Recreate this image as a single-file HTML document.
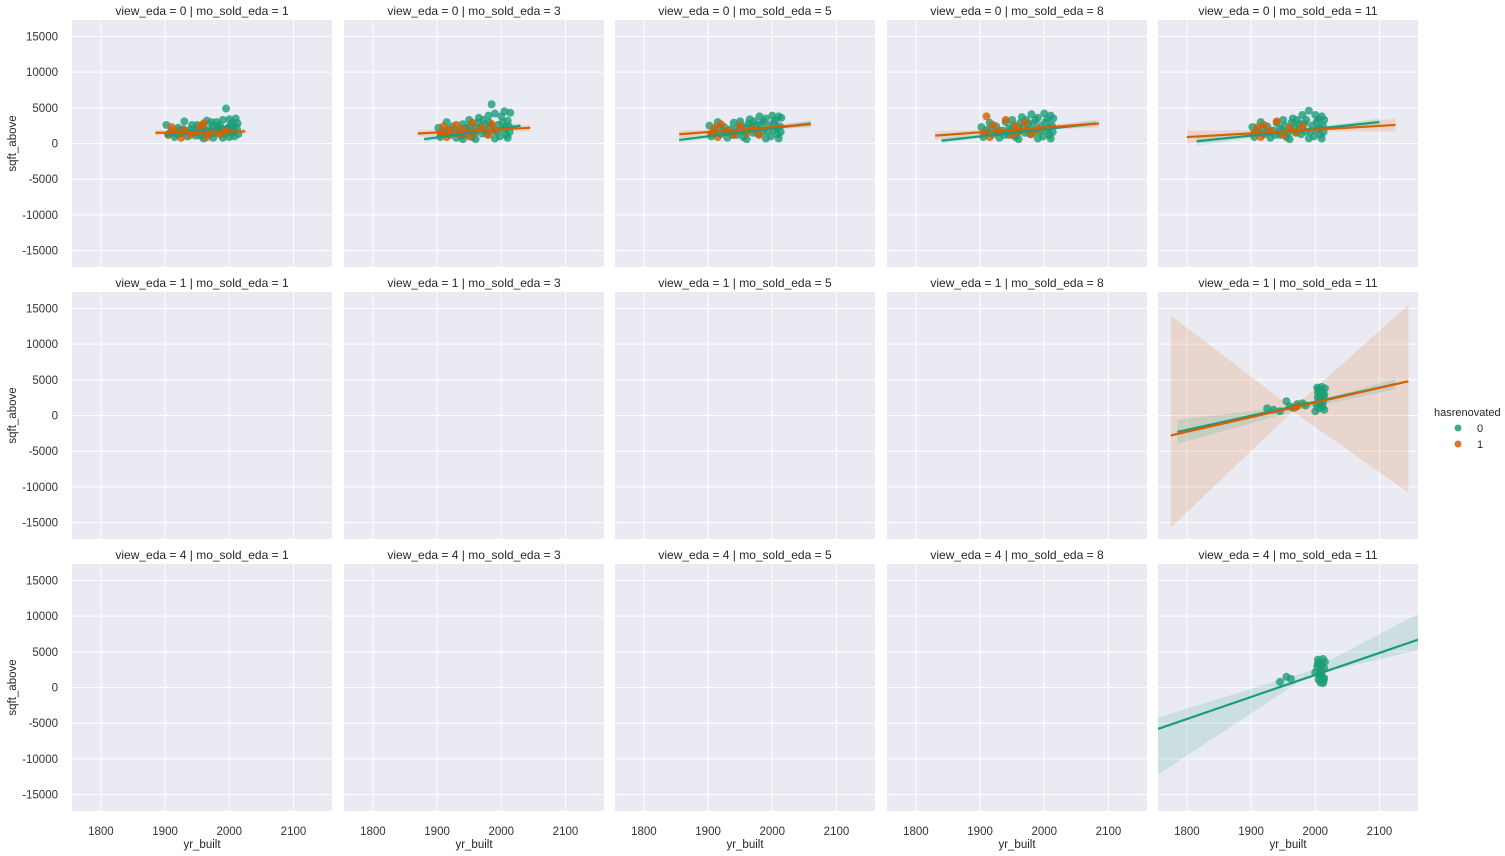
<!DOCTYPE html>
<html><head><meta charset="utf-8"><style>
body{margin:0;background:#fff;}
svg{display:block;font-family:"Liberation Sans",sans-serif;}
</style></head><body>
<svg id="c" width="1505" height="856" xmlns="http://www.w3.org/2000/svg"></svg>
<script>
const colVals=[1,3,5,8,11];
const rowVals=[0,1,4];
const xTicks=[1800,1900,2000,2100];
const yTicks=[15000,10000,5000,0,-5000,-10000,-15000];
const hueLabels=['0','1'];
const greenPts={
'0-0':[[1902,2600],[1905,1200],[1910,1800],[1915,900],[1920,2200],[1925,1400],[1930,3100],[1935,1000],[1940,2000],[1945,1500],[1950,2600],[1955,1100],[1960,1900],[1965,3200],[1970,1300],[1975,2500],[1980,3000],[1985,1700],[1990,3300],[1995,4900],[1998,2200],[2000,3400],[2003,1500],[2005,2900],[2008,1000],[2010,3500],[2012,2000],[2014,1300],[1990,800],[1960,700],[1975,800],[2000,900],[1985,2600],[1950,2000],[1930,1700],[2005,2200],[1908,1500],[1918,1300],[1928,2000],[1938,1500],[1948,1100],[1958,2500],[1968,2000],[1978,1500],[1988,2100],[1993,1300],[2002,2600],[2007,1700],[2013,2800],[1972,3000],[1982,2300],[1962,1400],[1942,2600],[1922,1800]],
'0-1':[[1902,2200],[1905,900],[1910,1700],[1915,3000],[1920,1200],[1925,2400],[1930,800],[1935,1900],[1940,2700],[1945,1300],[1950,3300],[1955,900],[1960,2100],[1965,3600],[1970,1400],[1975,2700],[1980,3900],[1985,5500],[1988,1800],[1990,4200],[1995,2600],[1998,1000],[2000,3800],[2003,2000],[2005,4500],[2008,1200],[2010,3200],[2012,2400],[2014,4300],[1960,600],[1990,700],[2010,800],[1945,2200],[1975,1800],[1940,600],[1908,1400],[1918,2000],[1928,1500],[1938,1100],[1948,1800],[1958,1500],[1968,2300],[1978,1300],[1983,2500],[1993,1700],[2002,3000],[2007,2300],[2013,1600],[1972,3300],[1982,2900],[1963,2900],[1952,2500]],
'0-2':[[1902,2500],[1905,1000],[1910,1900],[1915,3000],[1920,1300],[1925,2300],[1930,800],[1935,2000],[1940,2900],[1945,1200],[1950,3100],[1955,900],[1960,2200],[1965,3400],[1970,1500],[1975,2600],[1980,3800],[1985,1700],[1990,3500],[1995,2500],[1998,1000],[2000,3900],[2003,1900],[2005,3300],[2008,1300],[2010,3800],[2012,2400],[2014,3600],[1960,600],[1990,700],[2010,700],[1945,2100],[1975,1900],[1908,1500],[1918,2100],[1928,1600],[1938,1200],[1948,1800],[1958,1500],[1968,2400],[1978,1300],[1983,2700],[1993,1700],[2002,2900],[2007,2200],[2013,1600],[1972,3100],[1986,3100],[1963,2800],[1952,2400]],
'0-3':[[1902,2300],[1905,900],[1910,1900],[1915,2900],[1920,1300],[1925,2400],[1930,800],[1935,1800],[1940,3000],[1945,1200],[1950,3300],[1955,900],[1960,2100],[1965,3700],[1970,1500],[1975,2700],[1980,4100],[1985,1700],[1990,3600],[1995,2500],[1998,1000],[2000,4200],[2003,1900],[2005,3400],[2008,1200],[2010,3900],[2012,2500],[2014,3500],[1960,600],[1990,700],[2010,700],[1945,2100],[1975,1900],[1908,1500],[1918,2100],[1928,1600],[1938,1200],[1948,1800],[1958,1500],[1968,2400],[1978,1300],[1983,2800],[1993,1700],[2002,3000],[2007,2200],[2013,1600],[1972,3300],[1986,3300],[1963,2900],[1952,2500]],
'0-4':[[1902,2300],[1905,900],[1910,1900],[1915,3000],[1920,1300],[1925,2400],[1930,800],[1935,1800],[1940,2900],[1945,1200],[1950,3300],[1955,900],[1960,2100],[1965,3500],[1970,1500],[1975,2700],[1980,4000],[1985,1700],[1990,4600],[1995,2500],[1998,1000],[2000,4000],[2003,1900],[2005,3400],[2008,1200],[2010,3800],[2012,2500],[2014,3300],[1960,600],[1990,700],[2010,700],[1945,2100],[1975,1900],[1908,1500],[1918,2100],[1928,1600],[1938,1200],[1948,1800],[1958,1500],[1968,2400],[1978,1300],[1983,2800],[1993,1700],[2002,3000],[2007,2200],[2013,1600],[1972,3300],[1986,3300],[1963,2900],[1952,2500]],
'1-4':[[1925,1000],[1935,800],[1945,600],[1955,2000],[1960,1300],[1965,1100],[1972,1600],[1980,1700],[1985,1400],[2000,600],[2002,1500],[2004,2500],[2005,3700],[2006,1000],[2008,3000],[2009,2000],[2010,4000],[2011,1200],[2012,3300],[2013,2600],[2014,800],[2015,3800],[2003,3900],[2007,1700],[2006,2200],[2012,1800],[2004,3200],[2014,2900]],
'2-4':[[1945,800],[1955,1500],[1962,1200],[2000,2100],[2003,2900],[2004,3900],[2005,1100],[2006,3500],[2008,700],[2009,2400],[2010,3200],[2011,1500],[2012,4000],[2013,900],[2014,2700],[2015,3600],[2007,2000],[2012,600],[2006,1600],[2010,2200],[2004,3300],[2014,1300]]
};
const orangePts={
'0-0':[[1905,1300],[1910,2300],[1915,1700],[1925,800],[1930,1900],[1940,1200],[1950,1600],[1955,2400],[1960,2800],[1965,900],[1970,1500],[1985,1300],[1995,1800]],
'0-1':[[1905,1500],[1910,2400],[1915,900],[1920,1900],[1930,2600],[1935,1300],[1940,2000],[1950,1000],[1955,2900],[1960,1600],[1970,2200],[1980,1200],[1985,2700],[1990,1900]],
'0-2':[[1905,1400],[1910,2200],[1915,900],[1920,2700],[1930,1800],[1940,1200],[1950,2500],[1960,1500],[1970,2000],[1980,1200]],
'0-3':[[1905,1500],[1910,3800],[1915,900],[1920,2600],[1930,1800],[1940,3300],[1950,1200],[1955,2500],[1960,1600],[1970,2900],[1980,1300],[1990,2000]],
'0-4':[[1905,1500],[1910,2300],[1915,900],[1920,2600],[1930,1800],[1940,3100],[1950,1200],[1960,2200],[1970,1600],[1980,2400]],
'1-4':[[1968,1100],[1972,1300]],
'2-4':[]
};
const greenLine={'0-0':[1900,1100,2015,2600],'0-1':[1880,600,2030,2500],'0-2':[1855,500,2060,2800],'0-3':[1840,400,2080,2800],'0-4':[1815,300,2100,3000],'1-4':[1785,-2300,2125,4400],'2-4':[1755,-5800,2160,6700]};
const orangeLine={'0-0':[1885,1500,2025,1700],'0-1':[1870,1400,2045,2200],'0-2':[1855,1300,2060,2700],'0-3':[1830,1100,2085,2800],'0-4':[1800,900,2125,2600],'1-4':[1775,-2800,2145,4800]};
const greenBand={'0-0':[1900,800,1400,1960,1650,1900,2015,2300,2900],'0-1':[1880,200,1000,1960,1500,1700,2030,2100,2900],'0-2':[1855,100,900,1960,1600,1800,2060,2400,3200],'0-3':[1840,0,800,1960,1600,1800,2080,2400,3200],'0-4':[1815,-300,900,1970,1600,1900,2100,2500,3500],'1-4':[1785,-4000,-600,1975,800,1400,2125,3700,5100],'2-4':[1755,-12200,-4200,1990,1700,2300,2160,5200,10300]};
const orangeBand={'0-0':[1885,1100,1900,1950,1500,1700,2025,1300,2100],'0-1':[1870,900,1900,1960,1700,1900,2045,1700,2700],'0-2':[1855,800,1800,1960,1900,2100,2060,2200,3200],'0-3':[1830,500,1700,1960,1900,2100,2085,2200,3400],'0-4':[1800,0,1800,1960,1700,1900,2125,1700,3500],'1-4':[1775,-15700,14000,1965,600,1000,2145,-10800,15500]};

const NS='http://www.w3.org/2000/svg';
const svg=document.getElementById('c');
const G='#1b9e77',O='#d95f02';
const lefts=[72,344,615,887,1158],tops=[20,292,564],PW=260,PH=247;
const X0=1755,X1=2160,Y0=-17300,Y1=17300;
function mk(t,a,p){const e=document.createElementNS(NS,t);for(const k in a)e.setAttribute(k,a[k]);(p||svg).appendChild(e);return e;}
function txt(s,a,p){const e=mk('text',a,p);e.textContent=s;return e;}
rowVals.forEach((rv,r)=>{colVals.forEach((cv,c)=>{
  const L=lefts[c],T=tops[r];
  const sx=x=>L+(x-X0)/(X1-X0)*PW;
  const sy=v=>T+(Y1-v)/(Y1-Y0)*PH;
  const g=mk('g',{});
  
  
  const bg=mk('rect',{x:L,y:T,width:PW,height:PH,fill:'#eaeaf2'},g);
  
  
  xTicks.forEach(t=>{const l=mk('line',{x1:sx(t),x2:sx(t),y1:T,y2:T+PH,stroke:'#fff','stroke-width':1},g);
    });
  yTicks.forEach(t=>{const l=mk('line',{x1:L,x2:L+PW,y1:sy(t),y2:sy(t),stroke:'#fff','stroke-width':1},g);
    });
  const tt=txt('view_eda = '+rv+' | mo_sold_eda = '+cv,{x:L+PW/2,y:T-5,'text-anchor':'middle','font-size':12,fill:'#262626'},g);
  
  if(c===0){
    yTicks.forEach(t=>{const e=txt(String(t),{x:L-14,y:sy(t)+4,'text-anchor':'end','font-size':11.5,fill:'#333'},g);
      });
    const yl=txt('sqft_above',{x:0,y:0,transform:'translate(16,'+(T+PH/2)+') rotate(-90)','text-anchor':'middle','font-size':11.5,fill:'#262626'},g);
    
  }
  if(r===2){
    xTicks.forEach(t=>{const e=txt(String(t),{x:sx(t),y:T+PH+24,'text-anchor':'middle','font-size':11.5,fill:'#333'},g);
      });
    const xl=txt('yr_built',{x:L+PW/2,y:T+PH+37,'text-anchor':'middle','font-size':11.5,fill:'#262626'},g);
    
  }
  const key=r+'-'+c;
  const cp=mk('clipPath',{id:'cp'+key},g);mk('rect',{x:L,y:T,width:PW,height:PH},cp);
  const inner=mk('g',{'clip-path':'url(#cp'+key+')'},g);
  [[orangeBand,O],[greenBand,G]].forEach(([B,col])=>{const b=B[key];if(!b)return;
    const pts=[[b[0],b[2]],[b[3],b[5]],[b[6],b[8]],[b[6],b[7]],[b[3],b[4]],[b[0],b[1]]].map(p=>sx(p[0])+','+sy(p[1])).join(' ');
    const e=mk('polygon',{points:pts,fill:col,'fill-opacity':0.15},inner);
    });
  [[greenPts,G],[orangePts,O]].forEach(([P,col])=>{(P[key]||[]).forEach(p=>{
    const e=mk('circle',{cx:sx(p[0]),cy:sy(p[1]),r:4,fill:col,'fill-opacity':0.8},inner);
    });});
  [[greenLine,G],[orangeLine,O]].forEach(([Ln,col])=>{const l=Ln[key];if(!l)return;
    const e=mk('line',{x1:sx(l[0]),y1:sy(l[1]),x2:sx(l[2]),y2:sy(l[3]),stroke:col,'stroke-width':2.2},inner);
    });
});});
const lg=mk('g',{});


const lt=txt('hasrenovated',{x:1434,y:416,'font-size':11,fill:'#262626'},lg);

hueLabels.forEach((h,i)=>{
  const c=mk('circle',{cx:1458,cy:428+i*16,r:3.5,fill:i?O:G,'fill-opacity':0.85},lg);
  
  const t=txt(h,{x:1477,y:432+i*16,'font-size':11,fill:'#262626'},lg);
  
});
</script>
</body></html>
